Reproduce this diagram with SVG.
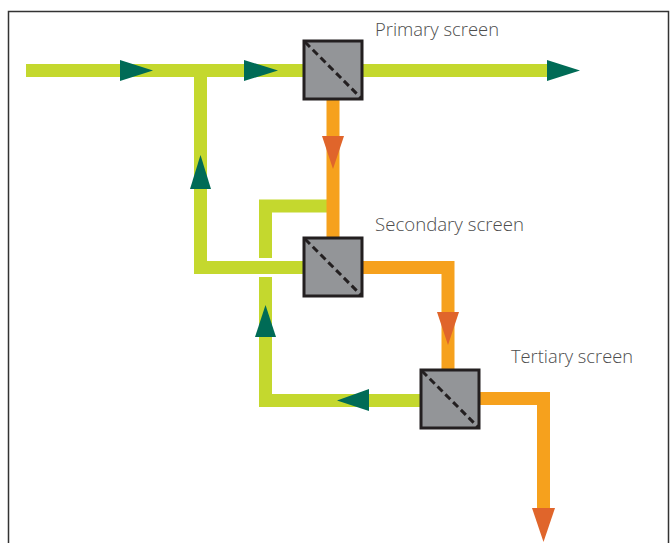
<svg xmlns="http://www.w3.org/2000/svg" width="670" height="543" viewBox="0 0 670 543">
<style>
.g{stroke:#c4d82e;stroke-width:13;fill:none;stroke-linecap:butt;stroke-linejoin:miter}
.o{stroke:#f6a11d;stroke-width:13;fill:none;stroke-linecap:butt;stroke-linejoin:miter}
.ga{fill:#006b56}
.oa{fill:#e0652b}
.box{fill:#939598;stroke:#231f20;stroke-width:3}
.dash{stroke:#231f20;stroke-width:3;stroke-dasharray:7 4;fill:none}
.lbl{font-family:"Open Sans","Liberation Sans",sans-serif;font-size:18px;font-weight:300;fill:#4d4d4d}
</style>
<rect x="0" y="0" width="670" height="543" fill="#ffffff"/>
<path d="M8.5,543 V11.5 H668.5 V543" fill="none" stroke="#333333" stroke-width="1.5"/>
<g id="connectors">
  <path class="g" d="M26,70.5 H547"/>
  <path class="g" d="M304,267.5 H200.5 V70.5"/>
  <path class="g" d="M421,400.5 H265.5 V277"/>
  <path class="g" d="M265.5,258 V206 H327"/>
  <path class="o" d="M333,99 V238"/>
  <path class="o" d="M362,267.5 H448 V370"/>
  <path class="o" d="M479,398.5 H543.5 V510"/>
  <polygon class="ga" points="120,60 153,70.5 120,81"/>
  <polygon class="ga" points="244,60 278,70.5 244,81"/>
  <polygon class="ga" points="547,60 580,70.5 547,81"/>
  <polygon class="ga" points="190,189 200.5,155 211,189"/>
  <polygon class="ga" points="255,337 265.5,305 276,337"/>
  <polygon class="ga" points="369,389 337,400.5 369,411"/>
  <polygon class="oa" points="322,136 333,169 344,136"/>
  <polygon class="oa" points="437,312 448,345 459,312"/>
  <polygon class="oa" points="532,508 543.5,542 555,508"/>
</g>
<g id="primary">
  <rect class="box" x="304" y="41" width="58" height="58"/>
  <line class="dash" x1="305" y1="42" x2="361" y2="98"/>
  <text class="lbl" x="375" y="36" textLength="124" lengthAdjust="spacingAndGlyphs">Primary screen</text>
</g>
<g id="secondary">
  <rect class="box" x="304" y="238" width="58" height="58"/>
  <line class="dash" x1="305" y1="239" x2="361" y2="295"/>
  <text class="lbl" x="375" y="231" textLength="149" lengthAdjust="spacingAndGlyphs">Secondary screen</text>
</g>
<g id="tertiary">
  <rect class="box" x="421" y="370" width="58" height="58"/>
  <line class="dash" x1="422" y1="371" x2="478" y2="427"/>
  <text class="lbl" x="511" y="363" textLength="122" lengthAdjust="spacingAndGlyphs">Tertiary screen</text>
</g>
</svg>
